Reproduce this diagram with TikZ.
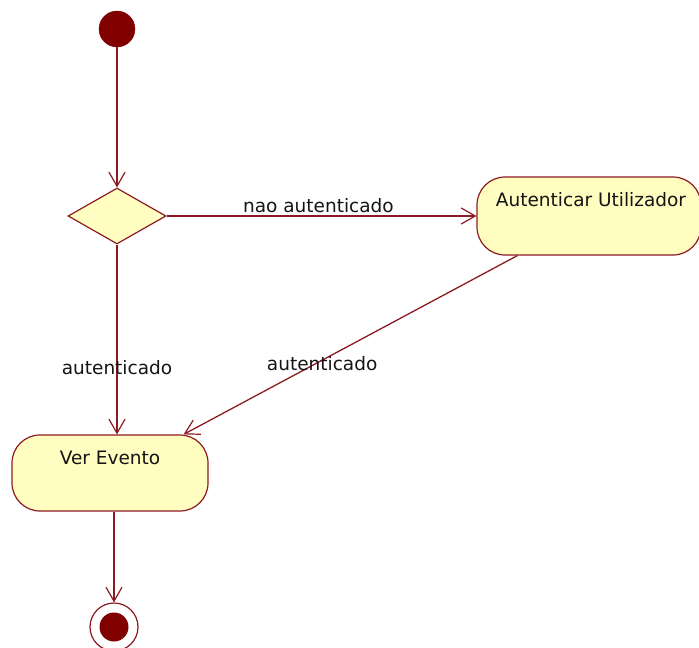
\documentclass[tikz,border=0pt]{standalone}
\usepackage{fontspec}
\setmainfont{DejaVu Sans}
\usetikzlibrary{shapes.geometric,arrows.meta}
\definecolor{umlline}{RGB}{140,26,34}
\definecolor{umldot}{RGB}{128,0,0}
\definecolor{umlfill}{RGB}{255,253,192}
\definecolor{umltext}{RGB}{20,20,20}
\begin{document}
\begin{tikzpicture}[x=1pt,y=-1pt,
  every node/.style={font=\fontsize{18.5}{22}\selectfont, text=umltext},
  flow/.style={draw=umlline, line width=1.3pt,
    -{Straight Barb[length=14pt,width=16pt,line width=1.2pt]}},
  startnode/.style={circle, fill=umldot, draw=umldot, minimum size=36pt, inner sep=0pt},
  decision/.style={diamond, draw=umlline, fill=umlfill, line width=1.2pt,
    aspect=1.75, minimum width=98pt, minimum height=56pt, inner sep=0pt},
  actbox/.style={draw=umlline, fill=umlfill, line width=1.2pt, rounded corners=28pt,
    inner sep=0pt},
  boxtext/.style={anchor=base, yshift=-30pt},
  guard/.style={inner sep=1pt}
]
\useasboundingbox (0,0) rectangle (699,648);
\clip (0,0) rectangle (699,648);

% start and decision
\node[startnode] (start) at (117,29) {};
\node[decision] (dec) at (117,216) {};

% actions
\node[actbox, minimum width=224pt, minimum height=78pt,
  label={[boxtext, xshift=2pt]north:Autenticar Utilizador}] (auth) at (589,216) {};
\node[actbox, minimum width=196pt, minimum height=76pt,
  label={[boxtext]north:Ver Evento}] (ver) at (110,473) {};

% final node
\node[circle, draw=umlline, fill=white, line width=1.2pt, minimum size=48pt, inner sep=0pt] (fin) at (114,627) {};
\node[circle, fill=umldot, minimum size=29pt, inner sep=0pt] (finin) at (fin.center) {};

% transitions
\draw[flow] (start.south) -- (dec.north);
\draw[flow] (dec.east) -- node[guard, anchor=south, pos=0.49, yshift=2pt] {nao autenticado} (auth.west);
\draw[flow] (dec.south) -- node[guard, pos=0.65] {autenticado} (dec.south |- ver.north);
\draw[flow] ([xshift=41pt]auth.south west) -- node[guard, pos=0.585, yshift=-3pt] {autenticado} ([xshift=-25pt]ver.north east);
\draw[flow] (ver.south -| fin.north) -- (fin.north);
\end{tikzpicture}
\end{document}
